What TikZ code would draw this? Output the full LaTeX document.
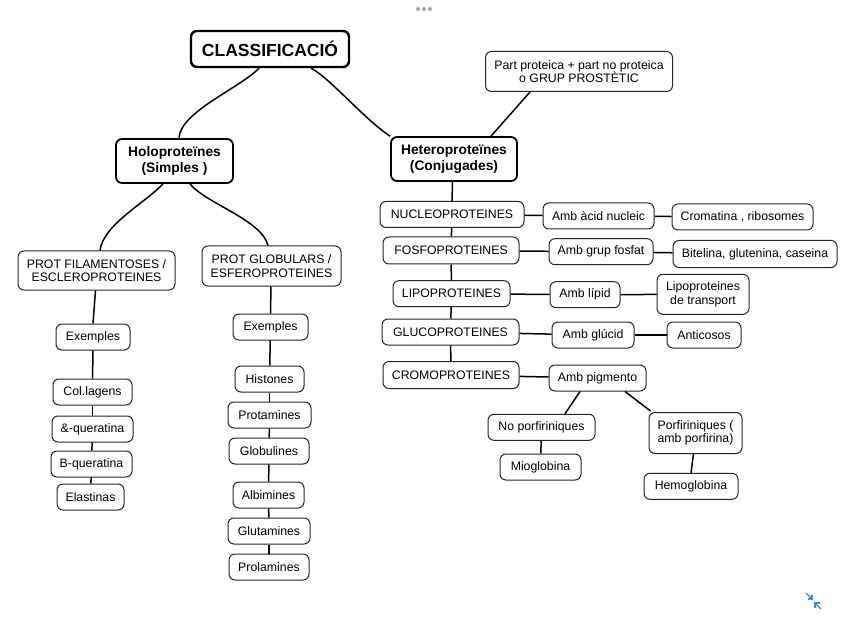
\documentclass[tikz,border=0pt]{standalone}
\usepackage{fontspec}
\setmainfont{Liberation Sans}
\newcommand\lblfont{\fontsize{12.3}{13.5}\selectfont}
\newcommand\hdfont{\fontsize{13.8}{16}\selectfont\bfseries}
\newcommand\ttlfont{\fontsize{17.5}{20}\selectfont\bfseries}
\definecolor{uiblue}{HTML}{2F8FF0}
\tikzset{
  wh/.style 2 args={minimum width=#1pt,minimum height=#2pt},
  box/.style={draw=black!85,line width=1pt,rounded corners=6pt,fill=white,align=center,inner sep=0pt,font=\lblfont},
  headbox/.style={box,draw=black,line width=1.7pt,font=\hdfont},
  titlebox/.style={box,draw=black,line width=2.4pt,font=\ttlfont},
  link/.style={line width=1.5pt,black}
}
\begin{document}
\begin{tikzpicture}[x=1pt,y=-1pt]
\useasboundingbox (0,0) rectangle (848,636);
\fill[white] (0,0) rectangle (848,636);
% nodes
\node[titlebox,wh={158}{36}] (classif) at (270,49) {CLASSIFICACIÓ};
\node[box,wh={187}{40}] (part) at (579,71.5) {Part proteica + part no proteica\\o GRUP PROSTÈTIC};
\node[headbox,wh={117}{44}] (holo) at (174.5,161) {Holoproteïnes\\(Simples )};
\node[headbox,wh={126}{44}] (hetero) at (454,159) {Heteroproteïnes\\(Conjugades)};
\node[box,wh={157}{39}] (filam) at (96.5,270.5) {PROT FILAMENTOSES /\\ESCLEROPROTEINES};
\node[box,wh={139}{40}] (glob) at (271.5,266) {PROT GLOBULARS /\\ESFEROPROTEINES};
\node[box,wh={74}{26}] (exL) at (93,337) {Exemples};
\node[box,wh={79}{26}] (col) at (92.5,392) {Col.lagens};
\node[box,wh={81}{26}] (alfa) at (92.5,429) {\&-queratina};
\node[box,wh={81}{26}] (beta) at (91.5,464) {B-queratina};
\node[box,wh={67}{26}] (elas) at (90.5,497) {Elastinas};
\node[box,wh={75}{26}] (exR) at (270.5,327) {Exemples};
\node[box,wh={69}{26}] (hist) at (269.5,379) {Histones};
\node[box,wh={83}{26}] (prot) at (269.5,415) {Protamines};
\node[box,wh={80}{26}] (globu) at (269,451) {Globulines};
\node[box,wh={71}{26}] (albi) at (268.5,495) {Albimines};
\node[box,wh={82}{26}] (glut) at (269,531) {Glutamines};
\node[box,wh={80}{26}] (prol) at (269,567) {Prolamines};
\node[box,wh={144}{26}] (nucl) at (452,214.5) {NUCLEOPROTEINES};
\node[box,wh={111}{26}] (acid) at (598.5,216) {Amb àcid nucleic};
\node[box,wh={141}{26}] (crom) at (742.5,217) {Cromatina , ribosomes};
\node[box,wh={136}{27}] (fosf) at (451,250.5) {FOSFOPROTEINES};
\node[box,wh={104}{26}] (fosfat) at (601,251.7) {Amb grup fosfat};
\node[box,wh={164}{27}] (bit) at (755,254) {Bitelina, glutenina, caseina};
\node[box,wh={117}{26}] (lipo) at (451.5,293.7) {LIPOPROTEINES};
\node[box,wh={70}{26}] (lipid) at (585,294.7) {Amb lípid};
\node[box,wh={92}{40}] (lipot) at (703,294.3) {Lipoproteines\\de transport};
\node[box,wh={137}{26}] (gluco) at (450.5,332) {GLUCOPROTEINES};
\node[box,wh={82}{26}] (glucid) at (593,335) {Amb glúcid};
\node[box,wh={74}{26}] (antic) at (704,335) {Anticosos};
\node[box,wh={136}{27}] (cromo) at (451,375) {CROMOPROTEINES};
\node[box,wh={97}{26}] (pigm) at (597.5,378) {Amb pigmento};
\node[box,wh={107}{26}] (nopor) at (541.5,427.3) {No porfiriniques};
\node[box,wh={81}{26}] (mio) at (540.5,467) {Mioglobina};
\node[box,wh={93}{41}] (por) at (695.5,433) {Porfiriniques (\\amb porfirina)};
\node[box,wh={94}{26}] (hemo) at (691,486.3) {Hemoglobina};
% connectors
\draw[link] ([xshift=-11pt]classif.south) .. controls (240,88) and (180,112) .. ([xshift=4.5pt]holo.north);
\draw[link] ([xshift=41pt]classif.south) .. controls (330,78) and (365,120) .. (hetero.north west);
\draw[link] ([xshift=-49pt]part.south) -- ([xshift=37pt]hetero.north);
\draw[link] ([xshift=-11.5pt]holo.south) .. controls (145,203) and (103,225) .. ([xshift=3.5pt]filam.north);
\draw[link] ([xshift=15.5pt]holo.south) .. controls (205,203) and (262,220) .. ([xshift=-3.5pt]glob.north);
\draw[link] ([xshift=-1pt]filam.south) -- (exL.north);
\draw[link] (exL) -- (col);
\draw[link] (col) -- (alfa);
\draw[link] (alfa) -- (beta);
\draw[link] (beta) -- (elas);
\draw[link] ([xshift=-0.5pt]glob.south) -- (exR.north);
\draw[link] (exR) -- (hist);
\draw[link] (hist) -- (prot);
\draw[link] (prot) -- (globu);
\draw[link] (globu) -- (albi);
\draw[link] (albi) -- (glut);
\draw[link] (glut) -- (prol);
\draw[link] ([xshift=-1.5pt]hetero.south) -- (nucl.north);
\draw[link] (nucl) -- (fosf);
\draw[link] (fosf) -- (lipo);
\draw[link] (lipo) -- (gluco);
\draw[link] (gluco) -- (cromo);
\draw[link] (nucl) -- (acid);
\draw[link] (acid) -- (crom);
\draw[link] (fosf) -- (fosfat);
\draw[link] (fosfat) -- (bit);
\draw[link] (lipo) -- (lipid);
\draw[link] (lipid) -- (lipot);
\draw[link] (gluco) -- (glucid);
\draw[link] (glucid) -- (antic);
\draw[link] (cromo) -- (pigm);
\draw[link] ([xshift=-17.5pt]pigm.south) -- ([xshift=23.5pt]nopor.north);
\draw[link] ([xshift=27.5pt]pigm.south) -- ([xshift=2pt,yshift=1pt]por.north west);
\draw[link] (nopor) -- (mio);
\draw[link] ([xshift=-2pt]por.south) -- (hemo.north);
% UI decorations
\foreach \dx in {418,424,430} \fill[black!35] (\dx,9) circle (2pt);
\begin{scope}[uiblue,line width=1.3pt]
\draw (806,593) -- (812,599);
\draw (807.5,599) -- (812,599) -- (812,594.5);
\draw (821,609) -- (815,603);
\draw (819.5,603) -- (815,603) -- (815,607.5);
\end{scope}
\end{tikzpicture}
\end{document}
